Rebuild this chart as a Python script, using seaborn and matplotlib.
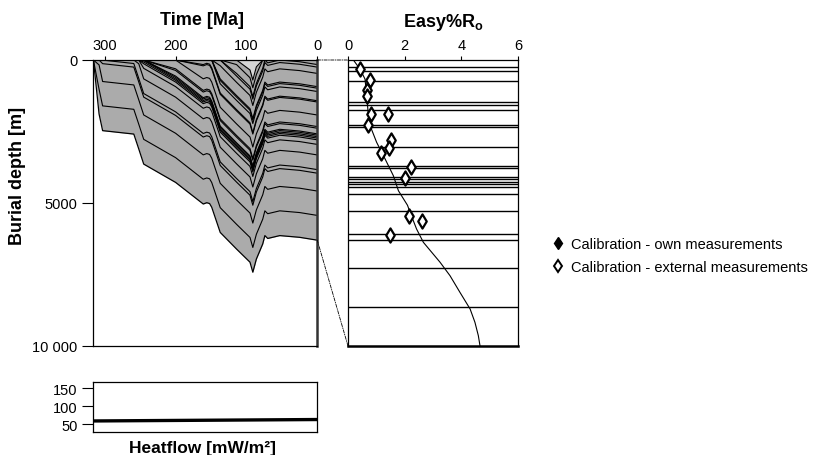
import numpy as np
import pandas as pd
import seaborn as sns
import matplotlib.pyplot as plt
from matplotlib.lines import Line2D
from matplotlib.patches import ConnectionPatch

# burial history: base of the sediment column (age in Ma, depth in m)
base_age = [316, 308, 303, 259, 252, 245, 200, 161, 156, 152, 149, 137, 114, 95, 91, 86, 77, 74, 70, 53, 25, 0]
base_depth = [0, 1890, 2470, 2590, 3110, 3640, 4280, 5035, 4990, 5020, 5150, 6030, 6610, 7070, 7420, 6960, 6430, 6140, 6240, 6140, 6200, 6300]

# present-day depth of the layer boundaries (right panel lines)
layer_top = [160, 249, 470, 932, 985, 1102, 1425, 1469, 1923, 2328, 2385, 2583, 2628,
             2681, 2731, 2791, 2952, 3320, 3833, 3958, 4582, 5434]
# boundaries of layers eroded later (m above today's surface)
eroded_top = [-150, -420]

# Easy%Ro model curve
ro_depth = [0, 198, 419, 786, 1227, 1447, 1813, 2181, 2548, 2880, 3200, 3355, 3723, 4016,
            4456, 4751, 5117, 5485, 5778, 6072, 6300]
ro_value = [0.19, 0.42, 0.60, 0.66, 0.72, 0.78, 1.01, 1.31, 1.60, 1.78, 2.10, 2.19, 2.42, 2.66,
            3.25, 3.60, 3.95, 4.31, 4.48, 4.60, 4.66]

# calibration - external measurements
cal_depth = [198, 433, 654, 786, 1190, 1190, 1432, 1762, 1938, 2049, 2350, 2600, 3428, 3546, 3847]
cal_ro = [0.42, 0.78, 0.68, 0.68, 0.80, 1.42, 0.72, 1.52, 1.46, 1.15, 2.22, 2.02, 2.15, 2.62, 1.48]

# heat flow history
hf_age = [317, 0]
hf_value = [59, 63]

sns.set_theme(style="ticks")
plt.rcParams["font.family"] = ["Liberation Sans", "DejaVu Sans"]
plt.rcParams["mathtext.fontset"] = "custom"
plt.rcParams["mathtext.rm"] = "Liberation Sans"
plt.rcParams["mathtext.bf"] = "Liberation Sans:bold"
for k in ["text.color", "axes.labelcolor", "xtick.color", "ytick.color", "axes.edgecolor"]:
    plt.rcParams[k] = "black"

fig = plt.figure(figsize=(8.22, 4.56), dpi=100)
W, H = 822.0, 456.0
ax1 = fig.add_axes([92.7 / W, 1 - 347 / H, 224.6 / W, 286 / H])
ax2 = fig.add_axes([348 / W, 1 - 347 / H, 170 / W, 286 / H])
ax3 = fig.add_axes([92.7 / W, 1 - 432.7 / H, 224.6 / W, 49.4 / H])

# burial history
base_now = base_depth[-1]
rows = []
for i, d0 in enumerate(layer_top + eroded_top):
    dep = np.clip(np.array(base_depth) - (base_now - d0), 0, None)
    rows.append(pd.DataFrame({"age": base_age, "depth": dep, "horizon": i}))
hor = pd.concat(rows, ignore_index=True)

ax1.fill_between(base_age, 0, base_depth, color="#ababab", lw=0)
er = hor[hor["horizon"] == len(layer_top) + len(eroded_top) - 1]
ax1.fill_between(er["age"], 0, er["depth"], color="#d6d6d6", lw=0)
sns.lineplot(data=hor, x="age", y="depth", units="horizon", estimator=None,
             color="black", lw=0.8, ax=ax1, legend=False)
sns.lineplot(x=base_age, y=base_depth, color="black", lw=0.9, ax=ax1)
ax1.set_xlim(317, 0)
ax1.set_ylim(10000, 0)
ax1.xaxis.tick_top()
ax1.set_xticks([300, 200, 100, 0])
ax1.set_yticks([0, 5000, 10000])
ax1.set_yticklabels(["0", "5000", "10 000"])
ax1.tick_params(axis="y", length=8, width=0.8, pad=3, labelsize=10.5)
ax1.tick_params(axis="x", length=3, width=0.8, pad=3, labelsize=10.5)
ax1.set_xlabel("")
ax1.set_ylabel("")
for s in ax1.spines.values():
    s.set_color("black")
    s.set_linewidth(0.9)
ax1.spines["right"].set_linewidth(1.8)
ax1.spines["right"].set_color("#333333")

# Easy%Ro column
ax2.hlines(layer_top, 0, 6, color="black", lw=1.0)
sns.lineplot(x=ro_value, y=ro_depth, sort=False, estimator=None, color="black", lw=0.8, ax=ax2)
sns.scatterplot(x=cal_ro, y=cal_depth, marker="d", s=52, facecolor="white",
                edgecolor="black", linewidth=1.6, ax=ax2, zorder=5)
ax2.set_xlim(0, 6)
ax2.set_ylim(base_now, 0)
ax2.xaxis.tick_top()
ax2.set_xticks([0, 2, 4, 6])
ax2.set_yticks([])
ax2.tick_params(axis="x", length=3, width=0.8, pad=3, labelsize=10.5)
for s in ax2.spines.values():
    s.set_color("black")
    s.set_linewidth(0.9)
ax2.spines["bottom"].set_linewidth(1.8)

# heat flow
sns.lineplot(x=hf_age, y=hf_value, color="black", lw=2.4, ax=ax3)
ax3.set_xlim(317, 0)
ax3.set_ylim(29, 167)
ax3.set_xticks([])
ax3.set_yticks([50, 100, 150])
ax3.tick_params(axis="y", length=8, width=0.8, pad=3, labelsize=10.5)
for s in ax3.spines.values():
    s.set_color("black")
    s.set_linewidth(0.9)

# connectors between the burial plot and the present-day column
for d in [0, base_now]:
    con = ConnectionPatch(xyA=(0, d), coordsA=ax1.transData, xyB=(0, d), coordsB=ax2.transData,
                          color="black", lw=0.6, linestyle=(0, (4, 1.5, 1, 1.5)))
    fig.add_artist(con)

fig.text(201.7 / W, 1 - 25 / H, "Time [Ma]", ha="center", va="baseline", fontsize=13, fontweight="bold")
fig.text(443 / W, 1 - 27 / H, r"Easy%R$_\mathbf{o}$", ha="center", va="baseline", fontsize=13, fontweight="bold")
fig.text(18 / W, 1 - 176 / H, "Burial depth [m]", ha="center", va="center", rotation=90,
         fontsize=13, fontweight="bold")
fig.text(202.5 / W, 1 - 453 / H, "Heatflow [mW/m²]", ha="center", va="baseline", fontsize=12.5, fontweight="bold")

handles = [
    Line2D([], [], marker="d", ls="", color="black", markersize=6.5),
    Line2D([], [], marker="d", ls="", markerfacecolor="white", markeredgecolor="black",
           markeredgewidth=1.4, markersize=6.5),
]
fig.legend(handles, ["Calibration - own measurements", "Calibration - external measurements"],
           loc="upper left", bbox_to_anchor=(553 / W, 1 - 238 / H), frameon=False, fontsize=10.5,
           handlelength=0.7, handletextpad=0.5, labelspacing=0.65, borderpad=0, borderaxespad=0)

fig.savefig("out.png", dpi=100)
